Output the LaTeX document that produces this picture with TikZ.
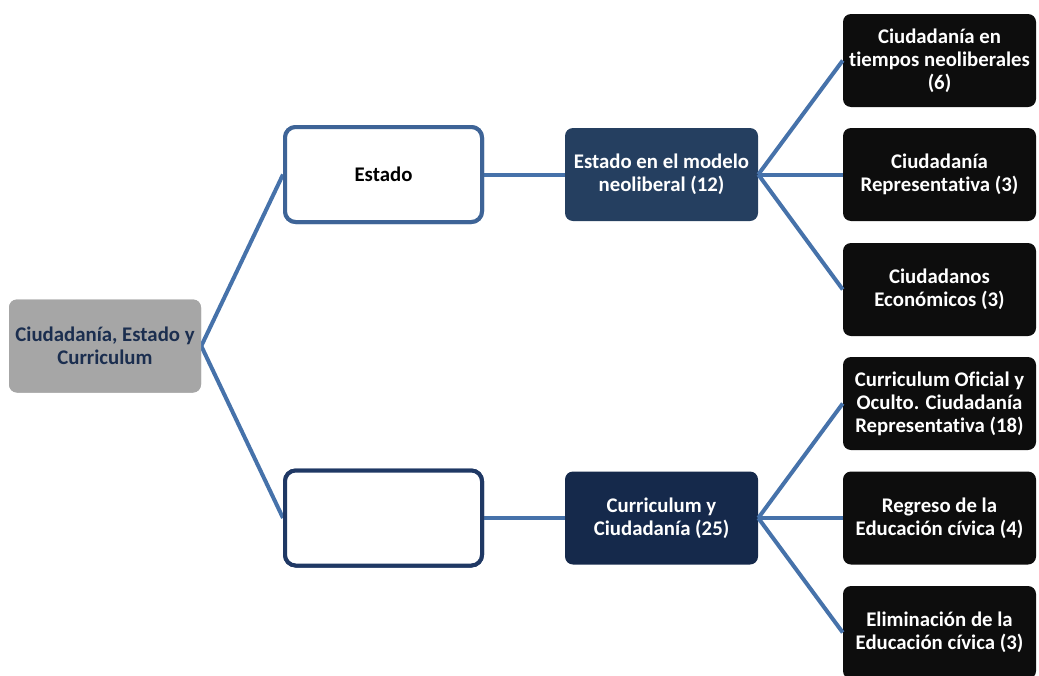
\documentclass[tikz,border=0pt]{standalone}
\usepackage{fontspec}
\setmainfont[Ligatures=NoCommon]{Carlito}
\definecolor{linkblue}{HTML}{4672AA}
\definecolor{estborder}{HTML}{3E6497}
\definecolor{lowborder}{HTML}{1F3864}
\definecolor{modfill}{HTML}{253F60}
\definecolor{curfill}{HTML}{15294B}
\definecolor{rootfill}{HTML}{A6A6A6}
\definecolor{roottext}{HTML}{1B2E4F}
\definecolor{blackbox}{HTML}{0D0D0D}
\begin{document}
\begin{tikzpicture}[x=0.75pt,y=-0.75pt,
  every node/.style={font=\fontsize{15.6}{17.25}\selectfont\bfseries, align=center, inner sep=0pt},
  link/.style={draw=linkblue, line width=3pt},
  rootbox/.style={fill=rootfill, text=roottext, rounded corners=6pt, minimum width=144pt, minimum height=69.75pt},
  outlinebox/.style={fill=white, line width=3pt, rounded corners=8pt, minimum width=147.75pt, minimum height=71.25pt},
  midbox/.style={text=white, rounded corners=6pt, minimum width=144.75pt, minimum height=69.75pt},
  leafbox/.style={fill=blackbox, text=white, rounded corners=6pt, minimum width=144.75pt, minimum height=69.75pt}]
\path[use as bounding box] (0,0) rectangle (1039,675);
\node[rootbox] (root) at (105,346) {Ciudadanía, Estado y\\Curriculum};
\node[outlinebox, draw=estborder] (estado) at (383.5,174.5) {Estado};
\node[outlinebox, draw=lowborder] (empty) at (383.5,518) {};
\node[midbox, fill=modfill] (modelo) at (661.5,174.5) {Estado en el modelo\\neoliberal (12)};
\node[midbox, fill=curfill] (curr) at (661.5,518) {Curriculum y\\Ciudadanía (25)};
\node[leafbox] (r1) at (939.5,60.5) {Ciudadanía en\\tiempos neoliberales\\(6)};
\node[leafbox] (r2) at (939.5,174.5) {Ciudadanía\\Representativa (3)};
\node[leafbox] (r3) at (939.5,289.5) {Ciudadanos\\Económicos (3)};
\node[leafbox] (r4) at (939.5,403.5) {Curriculum Oficial y\\Oculto. Ciudadanía\\Representativa (18)};
\node[leafbox] (r5) at (939.5,518) {Regreso de la\\Educación cívica (4)};
\node[leafbox] (r6) at (939.5,632.5) {Eliminación de la\\Educación cívica (3)};
\draw[link] (root.east) -- (estado.west);
\draw[link] (root.east) -- (empty.west);
\draw[link] (estado.east) -- (modelo.west);
\draw[link] (empty.east) -- (curr.west);
\foreach \r in {r1,r2,r3}{\draw[link] (modelo.east) -- (\r.west);}
\foreach \r in {r4,r5,r6}{\draw[link] (curr.east) -- (\r.west);}
\node[rootbox] at (root) {Ciudadanía, Estado y\\Curriculum};
\node[outlinebox, draw=estborder] at (estado) {Estado};
\node[outlinebox, draw=lowborder] at (empty) {};
\end{tikzpicture}
\end{document}
